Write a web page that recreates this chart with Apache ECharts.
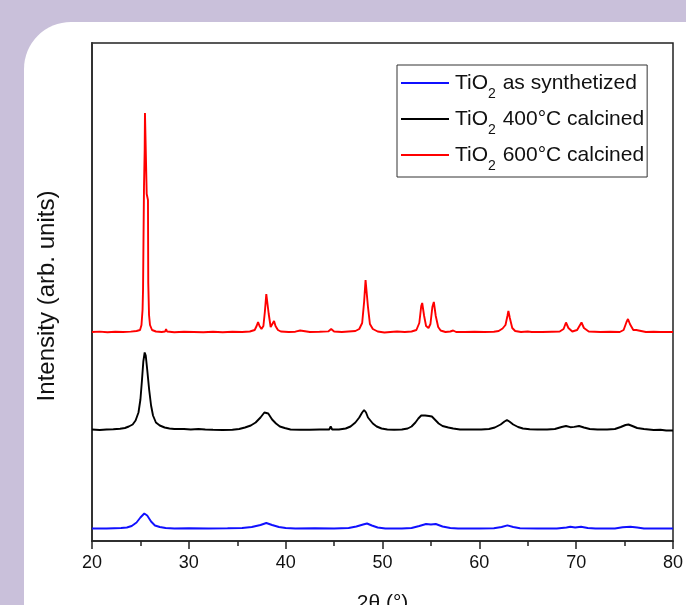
<!DOCTYPE html>
<html>
<head>
<meta charset="utf-8">
<script src="https://cdn.jsdelivr.net/npm/echarts@6/dist/echarts.min.js"></script>
<style>
  html, body { margin: 0; padding: 0; background: #c9c0da; overflow: hidden; }
  #chart { width: 686px; height: 605px; }
</style>
</head>
<body>
<div id="chart"></div>
<script>
// XRD patterns of TiO2: [2θ (deg), intensity above the pattern's own baseline]
const asSynthetized = [
  [20,0],[21.5,0],[22.3,0.3],[23.0,0.5],[23.6,1],[24.1,2.5],[24.6,6],[25.0,11],[25.4,15],[25.7,13],
  [26.1,7],[26.5,3],[27.0,1.5],[27.6,0.5],[28.5,0],[30,0.2],[32,0],[34,0.2],[35.5,0.5],[36.5,1.5],
  [37.4,3.5],[38.0,5.5],[38.6,3.5],[39.3,1.5],[40.0,0.5],[41,0],[43,0.2],[45,0],[46.5,0.5],[47.3,2],
  [48.0,4],[48.4,5],[48.9,3],[49.5,1],[50.3,0],[52,0],[53.0,0.5],[53.8,2.5],[54.5,4.5],[55.0,4],
  [55.5,4.5],[56.2,2],[57.0,0.5],[57.8,0],[60,0],[61.5,0.3],[62.3,1.5],[62.9,3.2],[63.5,1.5],[64.2,0.3],
  [66,0],[68,0],[69.0,1],[69.4,1.8],[69.9,1],[70.5,1.8],[71.2,0.5],[72,0],[74.0,0],[74.8,1.2],
  [75.6,1.8],[76.3,1],[77,0],[80,0]
];

const calcined400 = [
  [20.0,0],[20.8,-0.5],[21.5,0],[22.2,0.3],[22.9,0.8],[23.4,1.5],[23.8,3],[24.2,5],[24.5,9],[24.8,17],
  [25.0,30],[25.15,48],[25.3,68],[25.44,77],[25.55,74],[25.7,60],[25.9,40],[26.1,24],[26.3,14],[26.6,7],
  [27.0,4],[27.5,2],[28.0,1],[28.5,0.5],[29.5,0.5],[30.2,0],[31.0,0.5],[31.7,0],[32.5,-0.3],[33.5,-0.5],
  [34.5,-0.3],[35.2,0.5],[35.8,2],[36.4,4],[36.9,7],[37.4,12],[37.8,17],[38.0,18],[38.2,16],[38.6,10],
  [39.0,6],[39.4,3],[39.9,1.5],[40.5,0],[41.5,-0.3],[42.5,-0.3],[43.5,0],[44.5,0],[44.65,3],[44.8,0],
  [45.5,0],[46.2,1],[46.7,3],[47.2,7],[47.6,12],[47.9,17],[48.1,19.5],[48.3,17],[48.5,12],[48.7,10],
  [49.0,6],[49.4,3],[49.9,1],[50.5,0],[51.2,-0.3],[52.0,0],[52.6,1],[53.0,3],[53.4,7],[53.7,11],
  [54.0,14],[54.4,14],[54.8,13.5],[55.1,13],[55.4,10],[55.8,6],[56.2,3.5],[56.8,2],[57.3,1],[58.0,0],
  [59.0,0],[60.2,0],[61.0,0.5],[61.6,2],[62.2,5],[62.6,8],[62.85,9.5],[63.1,8],[63.5,5],[64.0,2.5],
  [64.5,1],[65.2,0.3],[66.0,0],[67.0,0],[67.8,0.5],[68.5,2.5],[68.95,3.5],[69.4,2.3],[69.8,2.6],[70.3,3.5],
  [70.8,2],[71.4,0.5],[72.2,0],[73.2,0],[74.0,0.5],[74.6,2.5],[75.1,4.5],[75.4,5],[75.8,3.5],[76.3,1.5],
  [77.0,0.5],[78.0,-0.5],[78.7,-0.3],[79.3,-1],[80,-1]
];

const calcined600 = [
  [20.0,0],[20.8,0.4],[21.6,-0.2],[22.4,0.3],[23.2,0],[24.0,0.4],[24.6,1],[24.96,2],[25.11,7],[25.22,22],
  [25.27,42],[25.32,95],[25.37,145],[25.44,182],[25.47,219],[25.55,221],[25.63,219],[25.65,138],[25.78,132],[25.81,49],
  [25.89,17],[25.99,7],[26.2,2],[26.6,0.5],[27.2,0],[27.55,0.5],[27.65,3],[27.75,0.5],[28.5,-0.3],[29.5,0.3],
  [30.5,0],[31.5,-0.3],[32.5,0.3],[33.5,-0.2],[34.5,0.3],[35.5,0],[36.3,0.5],[36.8,2],[37.0,6],[37.15,10],
  [37.3,6],[37.5,3],[37.7,6],[37.85,20],[38.0,38],[38.1,36],[38.25,18],[38.45,5],[38.6,4],[38.8,11],
  [38.95,6],[39.2,2],[39.5,0.5],[40.3,0],[41.0,0.3],[41.5,1.5],[41.7,0.3],[42.5,0],[43.5,0.2],[44.4,0.6],
  [44.7,3],[45.0,0.5],[45.8,0],[46.5,0.5],[47.2,1],[47.6,3],[47.9,9],[48.1,30],[48.25,52],[48.35,50],
  [48.5,25],[48.7,8],[49.0,3],[49.5,0.5],[50.2,-0.5],[50.8,0],[51.5,0.5],[52.3,0],[53.0,0.5],[53.5,2],
  [53.8,9],[54.0,26],[54.1,29],[54.3,16],[54.5,6],[54.75,4],[54.95,8],[55.15,25],[55.3,30],[55.5,16],
  [55.75,5],[56.0,1.5],[56.5,0],[57.0,0.5],[57.3,1.5],[57.6,0],[58.5,0],[59.5,0.3],[60.5,0],[61.5,0.3],
  [62.0,1],[62.4,3.5],[62.7,7],[62.9,16],[63.0,21],[63.15,14],[63.4,4],[63.7,1],[64.3,0],[65.0,0.5],
  [65.2,1.5],[65.4,0],[66.5,0],[67.5,0.3],[68.3,0.5],[68.7,3],[68.95,9.5],[69.2,4],[69.6,0.5],[70.1,2],
  [70.55,9.5],[70.8,4],[71.3,0.5],[72.5,0],[73.5,0.3],[74.5,0],[74.9,2],[75.2,10],[75.35,13],[75.55,8],
  [75.9,2],[76.2,2],[76.4,3],[76.7,1],[77.2,0],[78.0,0.3],[78.7,0],[79.5,0],[80,0]
];

// vertical stacking of the three patterns (arb. units)
const seriesNames = ['TiO2 as synthetized', 'TiO2 400°C calcined', 'TiO2 600°C calcined'];
const seriesData = [asSynthetized, calcined400, calcined600];
const seriesOffsets = [12.5, 111.5, 209];
const seriesColors = ['#1010ff', '#000000', '#ff0000'];

const xTicks = [20, 30, 40, 50, 60, 70, 80];

const FONT = '"Liberation Sans", Arial, sans-serif';

const chart = echarts.init(document.getElementById('chart'), null, { renderer: 'canvas' });

const series = seriesNames.map((name, i) => ({
  name: name,
  type: 'line',
  data: seriesData[i].map(p => [p[0], p[1] + seriesOffsets[i]]),
  symbol: 'none',
  showSymbol: false,
  smooth: false,
  animation: false,
  lineStyle: { color: seriesColors[i], width: 1.9 },
  itemStyle: { color: seriesColors[i] },
  z: 3 + i
}));

chart.setOption({
  backgroundColor: '#c9c0da',
  animation: false,
  graphic: {
    elements: [{
      type: 'rect',
      z: -100,
      shape: { x: 24, y: 22, width: 720, height: 650, r: 47 },
      style: { fill: '#ffffff' }
    }]
  },
  grid: {
    left: 92, right: 13, top: 43, bottom: 64,
    outerBoundsMode: 'none',
    containLabel: false,
    show: true,
    backgroundColor: 'transparent',
    borderColor: '#222',
    borderWidth: 1.5
  },
  legend: {
    data: seriesNames,
    orient: 'vertical',
    left: 397,
    top: 65,
    padding: [0, 3, 4, 4],
    itemGap: 0,
    itemWidth: 48,
    itemHeight: 14,
    backgroundColor: '#fff',
    borderColor: '#333',
    borderWidth: 1,
    borderRadius: 0,
    icon: 'path://M0,6 L48,6 L48,8 L0,8 Z',
    formatter: name => {
      const rest = name.replace('TiO2', '');
      return '{t|TiO}{s|2}{t|' + rest + '}';
    },
    textStyle: {
      fontFamily: FONT,
      color: '#111',
      rich: {
        t: { fontSize: 21, fontFamily: FONT, color: '#111', lineHeight: 26, padding: [0, 0, 0, 1] },
        s: { fontSize: 14, fontFamily: FONT, color: '#111', lineHeight: 14, padding: [22, 0, 0, 0] }
      }
    }
  },
  xAxis: {
    type: 'value',
    min: 20, max: 80, interval: 10,
    name: '2θ (°)',
    nameLocation: 'middle',
    nameGap: 52,
    nameTextStyle: { fontFamily: FONT, fontSize: 21, color: '#111' },
    axisLine: { show: true, onZero: false, lineStyle: { color: '#222', width: 1.5 } },
    axisTick: { show: true, inside: false, length: 8, lineStyle: { color: '#222', width: 1.5 } },
    minorTick: { show: true, splitNumber: 2, length: 5, lineStyle: { color: '#222', width: 1.5 } },
    axisLabel: {
      fontFamily: FONT, fontSize: 18, color: '#111', margin: 13,
      formatter: v => (xTicks.includes(v) ? String(v) : '')
    },
    splitLine: { show: false }
  },
  yAxis: {
    type: 'value',
    min: 0, max: 498,
    name: 'Intensity (arb. units)',
    nameLocation: 'middle',
    nameGap: 33,
    nameTextStyle: { fontFamily: FONT, fontSize: 24, color: '#111', padding: [0, 8, 0, 0] },
    axisLine: { show: true, lineStyle: { color: '#333', width: 2 } },
    axisTick: { show: false },
    axisLabel: { show: false },
    splitLine: { show: false }
  },
  series: series
});
</script>
</body>
</html>
